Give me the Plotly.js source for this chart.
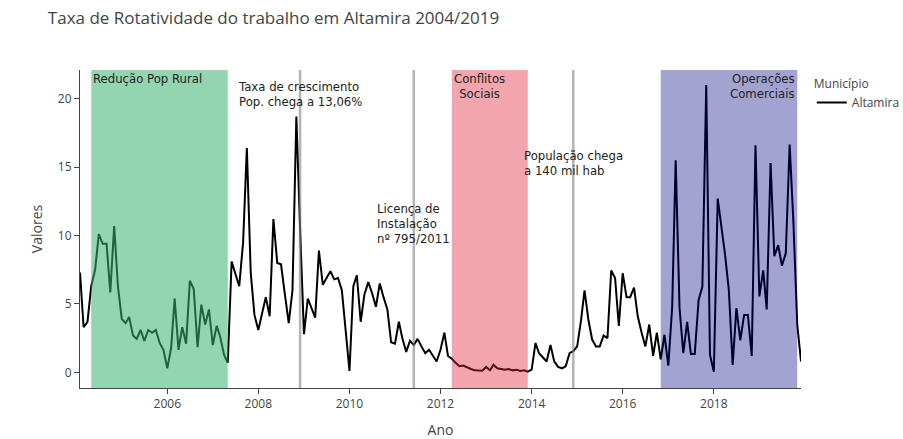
<!DOCTYPE html>
<html>
<head>
<meta charset="utf-8">
<script src="https://cdn.plot.ly/plotly-3.0.1.min.js"></script>
<style>html,body{margin:0;padding:0;background:#fff;}</style>
</head>
<body>
<div id="chart" style="width:903px;height:439px;"></div>
<script>
// Taxa de rotatividade mensal, Altamira (fev/2004 a dez/2019)
const startYear = 2004, startMonth = 2;
const v2004 = [7.3, 3.3, 3.7, 6.3, 7.5, 10.1, 9.4, 9.4, 5.85, 10.7, 6.3];
const v2005 = [3.9, 3.6, 4.05, 2.7, 2.45, 3.1, 2.3, 3.1, 2.9, 3.1, 2.15, 1.65];
const v2006 = [0.3, 1.8, 5.4, 1.65, 3.3, 2.1, 6.7, 6.1, 1.85, 4.95, 3.5, 4.6];
const v2007 = [2.0, 3.4, 2.6, 1.3, 0.7, 8.1, 7.2, 6.3, 9.5, 16.4, 7.3, 4.2];
const v2008 = [3.1, 4.3, 5.5, 4.1, 11.2, 8.0, 7.9, 5.7, 3.6, 6.0, 18.7, 10.5];
const v2009 = [2.8, 5.4, 4.7, 4.0, 8.9, 6.4, 6.9, 7.4, 6.8, 6.9, 6.0, 3.1];
const v2010 = [0.1, 6.3, 7.1, 3.7, 5.7, 6.6, 5.8, 4.8, 6.5, 5.5, 4.6, 2.2];
const v2011 = [2.1, 3.7, 2.5, 1.5, 2.3, 2.0, 2.45, 1.9, 1.4, 1.65, 1.2, 0.8];
const v2012 = [1.65, 2.9, 1.2, 1.0, 0.7, 0.45, 0.5, 0.35, 0.25, 0.15, 0.12, 0.12];
const v2013 = [0.4, 0.15, 0.55, 0.3, 0.25, 0.2, 0.25, 0.15, 0.2, 0.1, 0.15, 0.05];
const v2014 = [0.2, 2.15, 1.4, 1.1, 0.8, 2.0, 0.8, 0.4, 0.3, 0.45, 1.4, 1.55];
const v2015 = [1.9, 3.8, 6.0, 3.85, 2.4, 1.9, 1.9, 2.7, 2.5, 7.45, 6.9, 3.4];
const v2016 = [7.25, 5.5, 5.5, 6.2, 4.1, 2.9, 1.9, 3.5, 1.2, 2.9, 0.95, 2.75];
const v2017 = [0.5, 4.8, 15.5, 4.7, 1.4, 3.7, 1.35, 1.35, 5.3, 6.25, 21.0, 1.3];
const v2018 = [0.05, 12.7, 10.8, 8.6, 6.05, 0.55, 4.7, 2.35, 4.2, 4.2, 1.2, 16.6];
const v2019 = [5.55, 7.45, 4.6, 15.3, 8.5, 9.3, 7.8, 8.7, 16.65, 11.0, 3.5, 0.8];

// Períodos destacados e marcos
const periodStart = ['2004-05-01', '2012-04-01', '2016-11-01'];
const periodEnd   = ['2007-05-01', '2013-12-01', '2019-11-01'];
const periodLabel = ['Redução Pop Rural', 'Conflitos<br>Sociais', 'Operações<br>Comerciais'];
const markDates  = ['2008-12-01', '2011-06-01', '2014-12-01'];
const markLabels = ['Taxa de crescimento<br>Pop. chega a 13,06%', 'Licença de<br>Instalação<br>nº 795/2011', 'População chega<br>a 140 mil hab'];
const markLabelY = [20.3, 10.85, 15.25];

const values = [].concat(v2004, v2005, v2006, v2007, v2008, v2009, v2010, v2011,
                         v2012, v2013, v2014, v2015, v2016, v2017, v2018, v2019);
const dates = values.map((_, i) => {
  const m = startMonth - 1 + i;
  const y = startYear + Math.floor(m / 12);
  const mm = String(m % 12 + 1).padStart(2, '0');
  return y + '-' + mm + '-01';
});

const annFont = {family: 'DejaVu Sans', size: 11.7, color: '#222'};
const periodStyle = [
  {fill: 'mediumseagreen', opacity: 0.55, pos: 'left'},
  {fill: 'rgb(225,30,50)', opacity: 0.4, pos: 'left'},
  {fill: 'navy', opacity: 0.36, pos: 'right'}
];

const shapes = [];
const annotations = [];
periodStart.forEach((s, k) => {
  shapes.push({type: 'rect', xref: 'x', yref: 'paper', x0: s, x1: periodEnd[k], y0: 0, y1: 1,
               fillcolor: periodStyle[k].fill, opacity: periodStyle[k].opacity,
               line: {width: 0}, layer: 'above'});
  const right = periodStyle[k].pos === 'right';
  annotations.push({x: right ? periodEnd[k] : s, xref: 'x', y: 1, yref: 'paper',
                    xanchor: right ? 'right' : 'left', yanchor: 'top',
                    align: k === 1 ? 'center' : (right ? 'right' : 'left'),
                    text: periodLabel[k], showarrow: false, font: annFont});
});
markDates.forEach((d, k) => {
  shapes.push({type: 'line', xref: 'x', yref: 'paper', x0: d, x1: d, y0: 0, y1: 1,
               line: {color: 'rgba(128,128,128,0.6)', width: 2.5}, layer: 'above'});
  annotations.push({x: d, xref: 'x', y: markLabelY[k], yref: 'y',
                    xanchor: 'center', yanchor: 'middle', align: 'left',
                    text: markLabels[k], showarrow: false, font: annFont});
});

const trace = {
  x: dates, y: values, type: 'scatter', mode: 'lines', name: 'Altamira',
  line: {color: 'black', width: 2}
};

const axisCommon = {
  showline: true, linecolor: '#444', linewidth: 1, ticks: 'outside', ticklen: 5,
  tickcolor: '#444', showgrid: false, zeroline: false,
  tickfont: {family: 'Open Sans', size: 12, color: '#444'}
};

const layout = {
  width: 903, height: 439,
  margin: {l: 80, r: 102, t: 70, b: 51},
  paper_bgcolor: 'white', plot_bgcolor: 'white',
  font: {family: 'Open Sans', size: 12, color: '#444'},
  title: {text: 'Taxa de Rotatividade do trabalho em Altamira 2004/2019',
          x: 0.053, xanchor: 'left', xref: 'container', y: 0.96, yanchor: 'middle',
          font: {family: 'Open Sans', size: 17, color: '#444'}},
  xaxis: Object.assign({}, axisCommon, {
    type: 'date', range: [dates[0], dates[dates.length - 1]],
    dtick: 'M24', tick0: '2004-01-01', tickformat: '%Y',
    title: {text: 'Ano', font: {family: 'Open Sans', size: 14, color: '#444'}}
  }),
  yaxis: Object.assign({}, axisCommon, {
    range: [-1.14, 22.1], dtick: 5, tick0: 0,
    title: {text: 'Valores', font: {family: 'Open Sans', size: 14, color: '#444'}}
  }),
  legend: {xref: 'container', yref: 'container', x: 0.899, y: 0.835,
           xanchor: 'left', yanchor: 'top',
           title: {text: 'Município', font: {family: 'Open Sans', size: 12, color: '#444'}},
           font: {family: 'Open Sans', size: 12, color: '#444'}},
  showlegend: true,
  shapes: shapes,
  annotations: annotations
};

Plotly.newPlot('chart', [trace], layout, {displayModeBar: false, staticPlot: true});
</script>
</body>
</html>
